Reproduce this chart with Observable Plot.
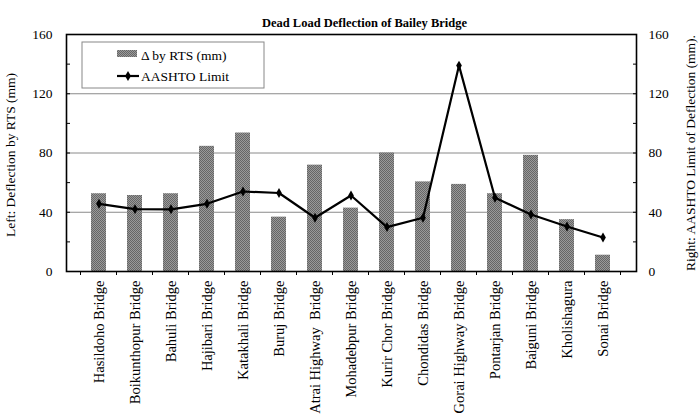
<!DOCTYPE html>
<html><head><meta charset="utf-8">
<script src="https://cdn.jsdelivr.net/npm/d3@7"></script>
<script src="https://cdn.jsdelivr.net/npm/@observablehq/plot@0.6"></script>
<style>body{margin:0;background:#fff} #chart svg{font-family:"Liberation Serif","Times New Roman",serif;display:block}</style>
</head><body><div id="chart"></div>
<script>
const bridges = ["Hasildoho Bridge","Boikunthopur Bridge","Bahuli Bridge","Hajibari Bridge","Katakhali Bridge","Buruj Bridge","Atrai Highway  Bridge","Mohadebpur Bridge","Kurir Chor Bridge","Chondidas Bridge","Gorai Highway Bridge","Pontarjan Bridge","Baiguni Bridge","Kholishagura","Sonai Bridge"];
const rtsDeflection = [52.5, 51.3, 52.5, 84.5, 93.5, 36.7, 71.8, 42.8, 80, 60.5, 58.8, 52.5, 78.4, 35, 11];
const aashtoLimit = [45.7, 42.1, 42, 45.7, 54, 53, 36.3, 51.3, 30, 36.3, 139, 49.8, 38.5, 30.4, 23];
const yTicks = [0, 40, 80, 120, 160];
const yAllTicks = [0, 20, 40, 60, 80, 100, 120, 140, 160];
const gridValues = [40, 80, 120];
const titleText = "Dead Load Deflection of Bailey Bridge";
const leftLabel = "Left: Deflection by RTS (mm)";
const rightLabel = "Right: AASHTO Limit of Deflection (mm).";
const legendBar = "\u0394 by RTS (mm)";
const legendLine = "AASHTO Limit";

const data = bridges.map((b, i) => ({bridge: b, rts: rtsDeflection[i], limit: aashtoLimit[i]}));

const chart = Plot.plot({
  width: 699, height: 414,
  marginLeft: 66, marginRight: 63, marginTop: 34, marginBottom: 143,
  style: {fontFamily: "Liberation Serif, serif", fontSize: "13px", color: "#000", background: "#fff"},
  x: {domain: bridges, padding: 0.58, label: null},
  y: {domain: [0, 160], label: null},
  marks: [
    Plot.ruleY(gridValues, {stroke: "#8a8a8a", strokeWidth: 1}),
    Plot.barY(data, {x: "bridge", y: "rts", fill: "url(#hatch)"}),
    Plot.line(data, {x: "bridge", y: "limit", stroke: "#000", strokeWidth: 2.2}),
    Plot.dot(data, {x: "bridge", y: "limit", symbol: "diamond", fill: "#000", stroke: "none", r: 3}),
    Plot.axisX({tickSize: 0, tickRotate: -90, tickPadding: 9, fontSize: 14.5, label: null}),
    Plot.axisY(yAllTicks, {anchor: "left", tickSize: -4, text: null, label: null, strokeWidth: 1}),
    Plot.axisY(yAllTicks, {anchor: "right", tickSize: -4, text: null, label: null, strokeWidth: 1}),
    Plot.axisY(yTicks, {anchor: "left", tickSize: 0, tickPadding: 14, fontSize: 13.5, label: null}),
    Plot.axisY(yTicks, {anchor: "right", tickSize: 0, tickPadding: 12, fontSize: 13.5, label: null}),
    Plot.text([leftLabel], {frameAnchor: "left", dx: -56, dy: 2, rotate: -90, textAnchor: "middle", fontSize: 13.5}),
    Plot.text([rightLabel], {frameAnchor: "right", dx: 54, dy: 0, rotate: -90, textAnchor: "middle", fontSize: 13.5}),
    Plot.text([titleText], {frameAnchor: "top", dx: 13, dy: -16, fontSize: 12.5, fontWeight: "bold"}),
    Plot.frame({stroke: "#000", strokeWidth: 1.6})
  ]
});

document.getElementById("chart").append(chart);
const svg = d3.select(chart);

// hatch pattern
const defs = svg.insert("defs", ":first-child");
const pat = defs.append("pattern").attr("id", "hatch").attr("patternUnits", "userSpaceOnUse").attr("width", 2).attr("height", 2);
pat.append("rect").attr("width", 2).attr("height", 2).attr("fill", "#9a9a9a");
pat.append("rect").attr("width", 1).attr("height", 1).attr("fill", "#666");
pat.append("rect").attr("x", 1).attr("y", 1).attr("width", 1).attr("height", 1).attr("fill", "#666");

// x-axis ticks at category boundaries
const xs = chart.scale("x");
const ys = chart.scale("y");
const gap = (xs.step - xs.bandwidth) / 2;
const y0 = ys.apply(0);
const bounds = bridges.map(b => xs.apply(b) - gap).concat([xs.apply(bridges[bridges.length - 1]) + xs.bandwidth + gap]);
svg.append("g").selectAll("line").data(bounds).join("line")
  .attr("x1", d => d).attr("x2", d => d).attr("y1", y0).attr("y2", y0 + 4)
  .attr("stroke", "#000").attr("stroke-width", 1);

// legend
const lg = svg.append("g").attr("font-size", 13.5).attr("font-family", "Liberation Serif, serif").attr("text-anchor", "start");
lg.append("rect").attr("x", 82).attr("y", 42).attr("width", 182).attr("height", 46)
  .attr("fill", "#fff").attr("stroke", "#888").attr("stroke-width", 1);
lg.append("rect").attr("x", 117).attr("y", 50).attr("width", 20).attr("height", 7).attr("fill", "url(#hatch)");
lg.append("text").attr("x", 141).attr("y", 60).attr("text-anchor", "start").text(legendBar);
lg.append("line").attr("x1", 117).attr("x2", 139).attr("y1", 76).attr("y2", 76).attr("stroke", "#000").attr("stroke-width", 2.2);
lg.append("path").attr("d", d3.symbol(d3.symbolDiamond, 30)()).attr("transform", "translate(128,76)").attr("fill", "#000");
lg.append("text").attr("x", 141).attr("y", 81).attr("text-anchor", "start").text(legendLine);
</script>
</body></html>
